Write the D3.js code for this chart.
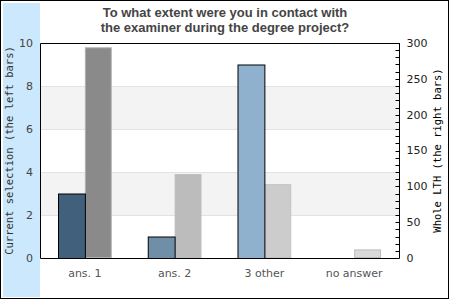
<!DOCTYPE html>
<html>
<head>
<meta charset="utf-8">
<script src="https://cdn.jsdelivr.net/npm/d3@7"></script>
<style>
  body { margin: 0; background: #fff; }
  svg { display: block; }
</style>
</head>
<body>
<div id="chart"></div>
<script>
// data
var categories = ["ans. 1", "ans. 2", "3 other", "no answer"]
var current    = [3, 1, 9, 0]          // left bars, left axis
var whole      = [294, 117, 103, 12]   // right bars, right axis
var leftTicks  = [0, 2, 4, 6, 8, 10]
var rightTicks = [0, 50, 100, 150, 200, 250, 300]

var leftFill   = ["#40607c", "#6f8fa9", "#8fb1cd", "#b0c8dc"]
var rightFill  = ["#8a8a8a", "#bcbcbc", "#cccccc", "#d9d9d9"]
var rightLine  = ["#b0b0b0", "#bcbcbc", "#c2c2c2", "#bdbdbd"]

var W = 450, H = 300
var margin = { top: 43, right: 51, bottom: 42, left: 40 },
  width = W - margin.left - margin.right,
  height = H - margin.top - margin.bottom

var svg = d3.select("#chart").append("svg")
  .attr("width", W)
  .attr("height", H)

// outer frame and blue side panel
svg.append("rect")
  .attr("x", 0.5).attr("y", 0.5)
  .attr("width", W - 2).attr("height", H - 2)
  .attr("fill", "#fff").attr("stroke", "#000")
svg.append("rect")
  .attr("x", 3).attr("y", 3)
  .attr("width", 37).attr("height", H - 6)
  .attr("fill", "#cce8fd")

var g = svg.append("g")
  .attr("transform", `translate(${margin.left},${margin.top})`)

var x = d3.scaleBand()
  .domain(categories)
  .range([0, width])

var inner = d3.scaleBand()
  .domain(["cur", "all"])
  .range([0, x.bandwidth()])
  .paddingOuter(0.67)

var yL = d3.scaleLinear().domain([0, 10]).range([height, 0])
var yR = d3.scaleLinear().domain([0, 300]).range([height, 0])

// alternating bands
var bands = [[2, 4], [6, 8]]
g.selectAll(".band").data(bands)
  .enter().append("rect")
  .attr("class", "band")
  .attr("x", 0)
  .attr("width", width)
  .attr("y", d => yL(d[1]))
  .attr("height", d => yL(d[0]) - yL(d[1]))
  .attr("fill", "#f3f3f3")

g.selectAll(".grid").data(leftTicks.slice(1, -1))
  .enter().append("line")
  .attr("class", "grid")
  .attr("x1", 0).attr("x2", width)
  .attr("y1", d => Math.round(yL(d)) + 0.5)
  .attr("y2", d => Math.round(yL(d)) + 0.5)
  .attr("stroke", "#e2e2e2")

// right bars (whole LTH)
g.selectAll(".whole").data(whole)
  .enter().append("rect")
  .attr("class", "whole")
  .attr("x", (d, i) => x(categories[i]) + inner("all") + 0.5)
  .attr("width", inner.bandwidth() - 1)
  .attr("y", d => yR(d) + 0.5)
  .attr("height", d => Math.max(0, height - yR(d) - 1))
  .attr("fill", (d, i) => rightFill[i])
  .attr("stroke", (d, i) => rightLine[i])

// left bars (current selection)
g.selectAll(".cur").data(current)
  .enter().append("rect")
  .attr("class", "cur")
  .attr("x", (d, i) => x(categories[i]) + inner("cur") + 0.5)
  .attr("width", inner.bandwidth())
  .attr("y", d => yL(d) + 0.5)
  .attr("height", d => Math.max(0, height - yL(d)))
  .attr("fill", (d, i) => leftFill[i])
  .attr("stroke", "#000")
  .style("display", d => d > 0 ? null : "none")

// frame lines: top, left, bottom
g.append("path")
  .attr("d", `M${width},0.5H0.5V${height + 0.5}H${width}`)
  .attr("fill", "none")
  .attr("stroke", "#000")

// left axis labels
g.selectAll(".ltick").data(leftTicks)
  .enter().append("text")
  .attr("class", "ltick")
  .attr("x", -7)
  .attr("y", d => yL(d))
  .attr("dy", "0.35em")
  .attr("text-anchor", "end")
  .style("font-family", "DejaVu Sans, sans-serif")
  .style("font-size", "11px")
  .attr("fill", "#444")
  .text(d => d)

// right axis
var rAxis = g.append("g")
  .attr("transform", `translate(${width + 0.5},0)`)
rAxis.append("line")
  .attr("y1", 0).attr("y2", height + 0.5)
  .attr("stroke", "#000")
rAxis.selectAll(".minor").data(d3.range(0, 301, 10))
  .enter().append("line")
  .attr("x1", -4).attr("x2", 0)
  .attr("y1", d => Math.round(yR(d)) + 0.5)
  .attr("y2", d => Math.round(yR(d)) + 0.5)
  .attr("stroke", "#000")
rAxis.selectAll("text").data(rightTicks)
  .enter().append("text")
  .attr("x", 7)
  .attr("y", d => yR(d))
  .attr("dy", "0.35em")
  .style("font-family", "DejaVu Sans, sans-serif")
  .style("font-size", "11px")
  .attr("fill", "#222")
  .text(d => d)

// category labels
g.selectAll(".cat").data(categories)
  .enter().append("text")
  .attr("class", "cat")
  .attr("x", d => x(d) + x.bandwidth() / 2)
  .attr("y", height + 19)
  .attr("text-anchor", "middle")
  .style("font-family", "DejaVu Sans, sans-serif")
  .style("font-size", "11px")
  .attr("fill", "#555")
  .text(d => d)

// titles
var title = svg.append("text")
  .attr("x", 225)
  .attr("text-anchor", "middle")
  .style("font-family", "Liberation Sans, Arial, sans-serif")
  .style("font-size", "13px")
  .style("font-weight", "bold")
  .attr("fill", "#444")
title.append("tspan").attr("x", 225).attr("y", 17).text("To what extent were you in contact with")
title.append("tspan").attr("x", 225).attr("y", 32).text("the examiner during the degree project?")

svg.append("text")
  .attr("transform", `translate(13,${margin.top + height / 2}) rotate(-90)`)
  .attr("text-anchor", "middle")
  .style("font-family", "DejaVu Sans Mono, monospace")
  .style("font-size", "10.5px")
  .attr("fill", "#333")
  .text("Current selection (the left bars)")

svg.append("text")
  .attr("transform", `translate(441,${margin.top + height / 2}) rotate(-90)`)
  .attr("text-anchor", "middle")
  .style("font-family", "DejaVu Sans Mono, monospace")
  .style("font-size", "10.5px")
  .attr("fill", "#000")
  .text("Whole LTH (the right bars)")
</script>
</body>
</html>
